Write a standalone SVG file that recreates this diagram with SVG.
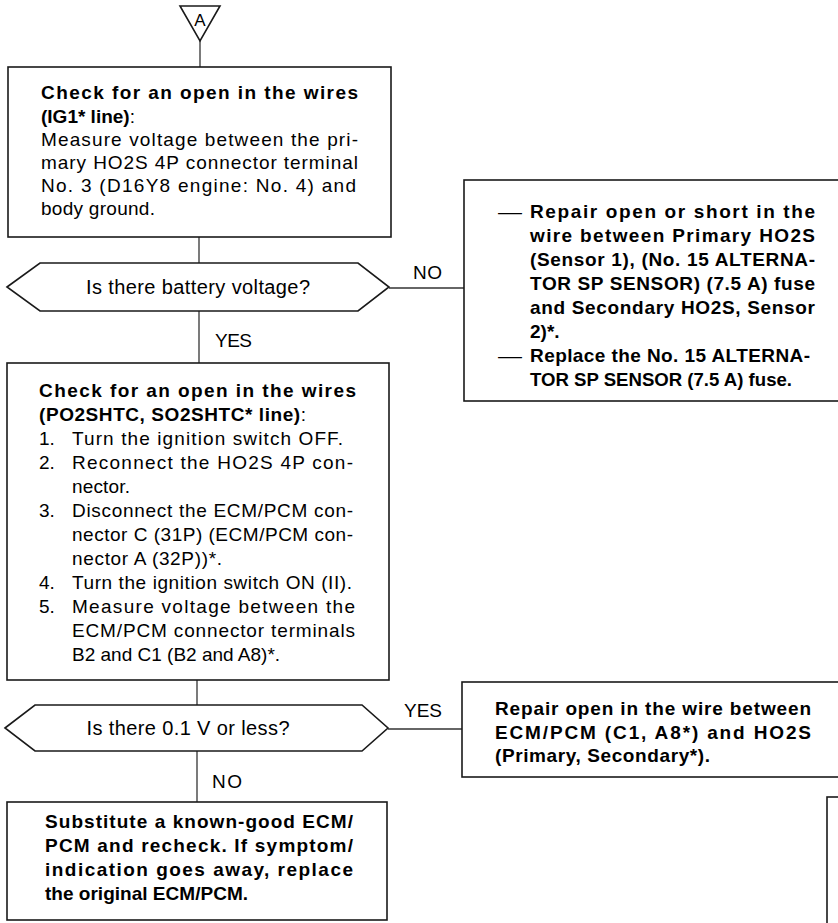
<svg xmlns="http://www.w3.org/2000/svg" width="838" height="923" viewBox="0 0 838 923">
<style>
text { font-family: "Liberation Sans", Arial, Helvetica, sans-serif; font-size: 19px; fill: #000; }
.b { font-weight: bold; }
.n { font-weight: normal; }
.lbl { font-size: 19px; }
.dec { font-size: 20px; }
.box { fill: #fff; stroke: #1a1a1a; stroke-width: 1.6; }
.conn { fill: none; stroke: #333; stroke-width: 1.3; }
</style>
<rect width="838" height="923" fill="#fff"/>

<g id="connectors">
  <path class="conn" d="M200,41 V67"/>
  <path class="conn" d="M199,237 V263"/>
  <path class="conn" d="M199,311 V363"/>
  <path class="conn" d="M197,680 V705"/>
  <path class="conn" d="M197,751 V802"/>
  <path class="conn" d="M389,288 H464"/>
  <path class="conn" d="M388,729 H462"/>
  <text class="lbl" x="413" y="279" textLength="29" lengthAdjust="spacing">NO</text>
  <text class="lbl" x="215" y="347" textLength="37" lengthAdjust="spacing">YES</text>
  <text class="lbl" x="404" y="717" textLength="38" lengthAdjust="spacing">YES</text>
  <text class="lbl" x="212" y="788" textLength="30" lengthAdjust="spacing">NO</text>
</g>

<g id="start-A">
  <polygon class="box" points="180,6 220,6 200,41"/>
  <text x="200" y="26" text-anchor="middle" style="font-size:17px">A</text>
</g>

<g id="check-ig1">
  <rect class="box" x="8" y="67" width="383" height="170"/>
  <text class="b" x="41" y="99" textLength="317" lengthAdjust="spacing">Check for an open in the wires</text>
  <text class="b" x="41" y="122.5">(IG1* line)<tspan class="n">:</tspan></text>
  <text x="41" y="146" textLength="317" lengthAdjust="spacing">Measure voltage between the pri-</text>
  <text x="41" y="169" textLength="317" lengthAdjust="spacing">mary HO2S 4P connector terminal</text>
  <text x="41" y="192" textLength="315" lengthAdjust="spacing">No. 3 (D16Y8 engine: No. 4) and</text>
  <text x="41" y="215" textLength="114" lengthAdjust="spacing">body ground.</text>
</g>

<g id="dec-battery">
  <polygon class="box" points="7,287 40,263 358,263 389,287 358,311 40,311"/>
  <text class="dec" x="198" y="294" text-anchor="middle" textLength="224" lengthAdjust="spacing">Is there battery voltage?</text>
</g>

<g id="repair-fuse">
  <rect class="box" x="464" y="180" width="400" height="221"/>
  <text x="498" y="218" textLength="24" lengthAdjust="spacingAndGlyphs">—</text>
  <text class="b" x="530" y="218" textLength="285" lengthAdjust="spacing">Repair open or short in the</text>
  <text class="b" x="530" y="242" textLength="285" lengthAdjust="spacing">wire between Primary HO2S</text>
  <text class="b" x="530" y="266" textLength="285" lengthAdjust="spacing">(Sensor 1), (No. 15 ALTERNA-</text>
  <text class="b" x="530" y="290" textLength="285" lengthAdjust="spacing">TOR SP SENSOR) (7.5 A) fuse</text>
  <text class="b" x="530" y="314" textLength="285" lengthAdjust="spacing">and Secondary HO2S, Sensor</text>
  <text class="b" x="530" y="338">2)*.</text>
  <text x="498" y="362" textLength="24" lengthAdjust="spacingAndGlyphs">—</text>
  <text class="b" x="530" y="362" textLength="280" lengthAdjust="spacing">Replace the No. 15 ALTERNA-</text>
  <text class="b" x="530" y="386" textLength="262" lengthAdjust="spacingAndGlyphs">TOR SP SENSOR (7.5 A) fuse.</text>
</g>

<g id="check-po2shtc">
  <rect class="box" x="7" y="363" width="382" height="317"/>
  <text class="b" x="39" y="397" textLength="317" lengthAdjust="spacing">Check for an open in the wires</text>
  <text class="b" x="39" y="421" textLength="267" lengthAdjust="spacing">(PO2SHTC, SO2SHTC* line)<tspan class="n">:</tspan></text>
  <text x="39" y="445">1.</text>
  <text x="72" y="445" textLength="271" lengthAdjust="spacing">Turn the ignition switch OFF.</text>
  <text x="39" y="469">2.</text>
  <text x="72" y="469" textLength="281" lengthAdjust="spacing">Reconnect the HO2S 4P con-</text>
  <text x="72" y="493" textLength="58" lengthAdjust="spacing">nector.</text>
  <text x="39" y="517">3.</text>
  <text x="72" y="517" textLength="281" lengthAdjust="spacing">Disconnect the ECM/PCM con-</text>
  <text x="72" y="541" textLength="281" lengthAdjust="spacing">nector C (31P) (ECM/PCM con-</text>
  <text x="72" y="565" textLength="150" lengthAdjust="spacing">nector A (32P))*.</text>
  <text x="39" y="589">4.</text>
  <text x="72" y="589" textLength="280" lengthAdjust="spacing">Turn the ignition switch ON (II).</text>
  <text x="39" y="613">5.</text>
  <text x="72" y="613" textLength="283" lengthAdjust="spacing">Measure voltage between the</text>
  <text x="72" y="637" textLength="283" lengthAdjust="spacing">ECM/PCM connector terminals</text>
  <text x="72" y="661">B2 and C1 (B2 and A8)*.</text>
</g>

<g id="dec-voltage">
  <polygon class="box" points="5,728 35,705 362,705 388,728 362,751 35,751"/>
  <text class="dec" x="188" y="735" text-anchor="middle" textLength="203" lengthAdjust="spacing">Is there 0.1 V or less?</text>
</g>

<g id="repair-wire">
  <rect class="box" x="462" y="682" width="400" height="95"/>
  <text class="b" x="495" y="715" textLength="316" lengthAdjust="spacing">Repair open in the wire between</text>
  <text class="b" x="495" y="738.5" textLength="316" lengthAdjust="spacing">ECM/PCM (C1, A8*) and HO2S</text>
  <text class="b" x="495" y="762" textLength="215" lengthAdjust="spacing">(Primary, Secondary*).</text>
</g>

<g id="substitute-ecm">
  <rect class="box" x="7" y="802" width="380" height="118"/>
  <text class="b" x="45" y="828" textLength="308" lengthAdjust="spacing">Substitute a known-good ECM/</text>
  <text class="b" x="45" y="852" textLength="308" lengthAdjust="spacing">PCM and recheck. If symptom/</text>
  <text class="b" x="45" y="876" textLength="308" lengthAdjust="spacing">indication goes away, replace</text>
  <text class="b" x="45" y="900" textLength="203" lengthAdjust="spacing">the original ECM/PCM.</text>
</g>

<g id="next-box">
  <rect class="box" x="827" y="797" width="50" height="200"/>
</g>
</svg>
